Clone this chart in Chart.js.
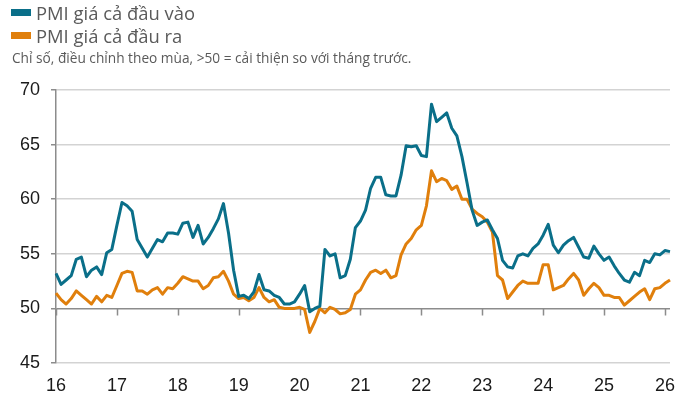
<!DOCTYPE html>
<html>
<head>
<meta charset="utf-8">
<script src="https://cdn.jsdelivr.net/npm/chart.js@4.4.1/dist/chart.umd.min.js"></script>
<style>
  html, body { margin: 0; padding: 0; background: #fff; }
  #wrap { position: relative; width: 688px; height: 407px; overflow: hidden; }
  #c { position: absolute; left: 0; top: 0; }
  .leg { position: absolute; left: 11px; font-family: "Open Sans", sans-serif; font-size: 18.4px; line-height: 23px; color: #5a5a5a; white-space: nowrap; z-index: 2; }
  .sw { display: inline-block; width: 20px; height: 7px; vertical-align: 0px; margin-right: 5px; position: relative; top: -4px; }
  #sub { position: absolute; left: 12px; top: 50px; font-family: "Open Sans", sans-serif; font-size: 13.7px; line-height: 16px; color: #5a5a5a; white-space: nowrap; z-index: 2; }
</style>
</head>
<body>
<div id="wrap">
  <canvas id="c" width="688" height="407"></canvas>
  <div class="leg" id="leg1" style="top:1px"><span class="sw" style="background:#0a6f89"></span>PMI giá cả đầu vào</div>
  <div class="leg" id="leg2" style="top:24px"><span class="sw" style="background:#e07f0c"></span>PMI giá cả đầu ra</div>
  <div id="sub">Chỉ số, điều chỉnh theo mùa, &gt;50 = cải thiện so với tháng trước.</div>
</div>
<script>
// Categories: months from Jan 2016 to Feb 2026
const startYear = 2016;
const monthCount = 122;
const yearTickLabels = ['16','17','18','19','20','21','22','23','24','25','26'];
const seriesNames = ['PMI giá cả đầu vào', 'PMI giá cả đầu ra'];

// PMI input prices (đầu vào)
const inputPrices = [
  53.2, 52.2, 52.6, 53.0, 54.5, 54.7, 52.9, 53.5, 53.8, 53.1, 55.1, 55.4,
  57.6, 59.7, 59.4, 58.9, 56.3, 55.5, 54.7, 55.5, 56.3, 56.1, 56.9, 56.9,
  56.8, 57.8, 57.9, 56.5, 57.6, 55.9, 56.5, 57.3, 58.2, 59.6, 56.9, 53.5,
  51.1, 51.2, 50.9, 51.5, 53.1, 51.7, 51.6, 51.2, 51.0, 50.4, 50.4, 50.6,
  51.3, 52.1, 49.7, 50.0, 50.2, 55.4, 54.8, 55.0, 52.8, 53.0, 54.5, 57.4,
  58.0, 59.0, 61.0, 62.0, 62.0, 60.4, 60.3, 60.3, 62.2, 64.9, 64.8, 64.9,
  64.0, 63.9, 68.7, 67.1, 67.5, 67.9, 66.5, 65.8, 63.9, 61.5, 59.0, 57.6,
  57.9, 58.1, 57.2, 56.4, 54.4, 53.8, 53.7, 54.8, 55.0, 54.8, 55.5, 55.9,
  56.7, 57.7, 55.8, 55.1, 55.8, 56.2, 56.5, 55.6, 54.7, 54.6, 55.7, 55.0,
  54.4, 54.7, 53.9, 53.2, 52.6, 52.4, 53.3, 53.0, 54.4, 54.2, 55.0, 54.9,
  55.3, 55.2
];

// PMI output prices (đầu ra)
const outputPrices = [
  51.4, 50.8, 50.4, 50.9, 51.6, 51.2, 50.8, 50.4, 51.1, 50.6, 51.2, 51.0,
  52.1, 53.2, 53.4, 53.3, 51.6, 51.6, 51.3, 51.7, 51.9, 51.3, 51.9, 51.8,
  52.3, 52.9, 52.7, 52.5, 52.5, 51.8, 52.1, 52.8, 52.9, 53.4, 52.5, 51.3,
  50.9, 51.0, 50.7, 51.0, 51.9, 51.0, 50.6, 50.8, 50.1, 50.0, 50.0, 50.0,
  50.1, 49.9, 47.8, 48.8, 50.0, 49.6, 50.1, 49.9, 49.5, 49.6, 49.9, 51.3,
  51.7, 52.6, 53.3, 53.5, 53.2, 53.5, 52.8, 53.0, 54.9, 55.9, 56.4, 57.2,
  57.6, 59.4, 62.6, 61.6, 61.9, 61.7, 60.9, 61.2, 60.0, 60.0, 59.1, 58.7,
  58.4, 57.9, 57.0, 53.0, 52.6, 50.9, 51.5, 52.1, 52.5, 52.3, 52.3, 52.3,
  54.0, 54.0, 51.7, 51.9, 52.1, 52.7, 53.2, 52.6, 51.2, 51.8, 52.3, 51.9,
  51.2, 51.2, 51.0, 51.0, 50.3, 50.7, 51.1, 51.5, 51.8, 50.8, 51.8, 51.9,
  52.3, 52.6
];

const yMin = 45, yMax = 70, yStep = 5, axisCross = 50;

const labels = [];
for (let i = 0; i < monthCount; i++) {
  const y = startYear + Math.floor(i / 12);
  const m = i % 12;
  labels.push(y + '-' + String(m + 1).padStart(2, '0'));
}

const axisTickPlugin = {
  id: 'axisTicks',
  beforeDatasetsDraw(chart) {
    const xs = chart.scales.x, ys = chart.scales.y;
    const ctx = chart.ctx;
    const y0 = ys.getPixelForValue(axisCross);
    ctx.save();
    ctx.strokeStyle = '#8c8c8c';
    ctx.lineWidth = 1.5;
    ctx.beginPath();
    for (let i = 0; i < labels.length; i++) {
      if (i % 12 === 0) {
        const x = Math.round(xs.getPixelForValue(i)) + 0.5;
        ctx.moveTo(x, y0);
        ctx.lineTo(x, y0 + 7);
      }
    }
    ctx.stroke();
    ctx.restore();
  }
};

new Chart(document.getElementById('c'), {
  type: 'line',
  data: {
    labels: labels,
    datasets: [
      { label: seriesNames[0], data: inputPrices, borderColor: '#0a6f89', backgroundColor: '#0a6f89', borderWidth: 3, pointRadius: 0, tension: 0, borderJoinStyle: 'round' },
      { label: seriesNames[1], data: outputPrices, borderColor: '#e07f0c', backgroundColor: '#e07f0c', borderWidth: 3, pointRadius: 0, tension: 0, borderJoinStyle: 'round' }
    ]
  },
  options: {
    responsive: false,
    animation: false,
    devicePixelRatio: 1,
    layout: { padding: { top: 90, right: 18, bottom: 0, left: 0 } },
    plugins: { legend: { display: false }, tooltip: { enabled: false } },
    scales: {
      x: {
        type: 'category',
        offset: false,
        grid: { display: false, drawTicks: false },
        border: { display: false },
        afterFit(scale) { scale.height = 44; },
        ticks: {
          autoSkip: false,
          maxRotation: 0,
          minRotation: 0,
          padding: 12,
          color: '#1a1a1a',
          font: { family: '"Liberation Sans", Arial, sans-serif', size: 18 },
          callback(val, idx) {
            return idx % 12 === 0 ? yearTickLabels[idx / 12] : null;
          }
        }
      },
      y: {
        min: yMin,
        max: yMax,
        afterFit(scale) { scale.width = 56; },
        grid: {
          color(ctx) { return ctx.tick && ctx.tick.value === axisCross ? '#8c8c8c' : '#d3d3d3'; },
          lineWidth: 1.5,
          tickLength: 5,
          tickColor: '#8c8c8c'
        },
        border: { display: true, color: '#8c8c8c', width: 1.5 },
        ticks: {
          stepSize: yStep,
          padding: 11,
          color: '#1a1a1a',
          font: { family: '"Liberation Sans", Arial, sans-serif', size: 18 }
        }
      }
    }
  },
  plugins: [axisTickPlugin]
});
</script>
</body>
</html>
